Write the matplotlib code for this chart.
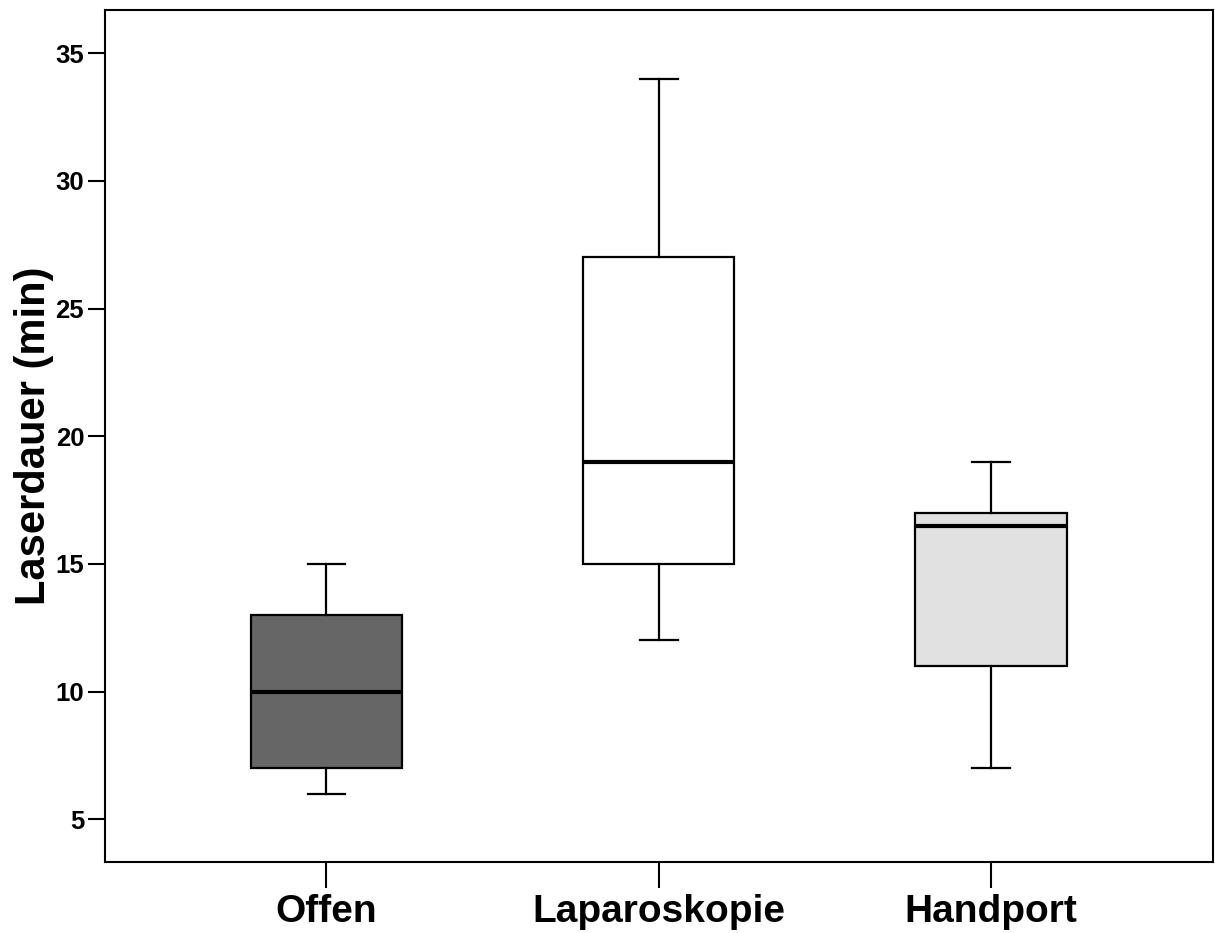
import matplotlib
matplotlib.use("Agg")
import matplotlib.pyplot as plt

# DATEN
groups    = ["Offen", "Laparoskopie", "Handport"]
whisk_lo  = [6, 12, 7]
q1        = [7, 15, 11]
medians   = [10, 19, 16.5]
q3        = [13, 27, 17]
whisk_hi  = [15, 34, 19]
fills     = ["#666666", "#ffffff", "#e1e1e1"]
yticks    = [5, 10, 15, 20, 25, 30, 35]

stats = []
for g, lo, a, m, b, hi in zip(groups, whisk_lo, q1, medians, q3, whisk_hi):
    stats.append(dict(label=g, whislo=lo, q1=a, med=m, q3=b, whishi=hi, fliers=[]))

plt.rcParams['font.family'] = ['Liberation Sans', 'DejaVu Sans']

fig = plt.figure(figsize=(12.15, 9.33), dpi=100)
ax = fig.add_axes([0.0864, 0.076, 0.9116, 0.913])

box_w = 0.455
bp = ax.bxp(stats, positions=[1, 2, 3], widths=box_w, capwidths=box_w * 0.25,
            patch_artist=True, showfliers=False,
            boxprops=dict(linewidth=1.6, edgecolor='black'),
            whiskerprops=dict(linewidth=1.6, color='black'),
            capprops=dict(linewidth=1.6, color='black'),
            medianprops=dict(linewidth=3.0, color='black', solid_capstyle='butt'))
for patch, c in zip(bp['boxes'], fills):
    patch.set_facecolor(c)

ax.set_xlim(1 / 3, 11 / 3)
ax.set_ylim(3.32, 36.68)
ax.set_yticks(yticks)
ax.set_xticks([1, 2, 3])
ax.set_xticklabels(groups, fontsize=28, fontweight='bold')
for t in ax.get_yticklabels():
    t.set_fontweight('bold')
    t.set_fontsize(18.5)

ax.tick_params(axis='y', length=12, width=1.5, pad=3)
ax.tick_params(axis='x', length=19, width=1.5, pad=4)
for s in ax.spines.values():
    s.set_linewidth(1.5)

ax.set_ylabel("Laserdauer (min)", fontsize=30, fontweight='bold', labelpad=1)

fig.savefig("out.png", dpi=100)
